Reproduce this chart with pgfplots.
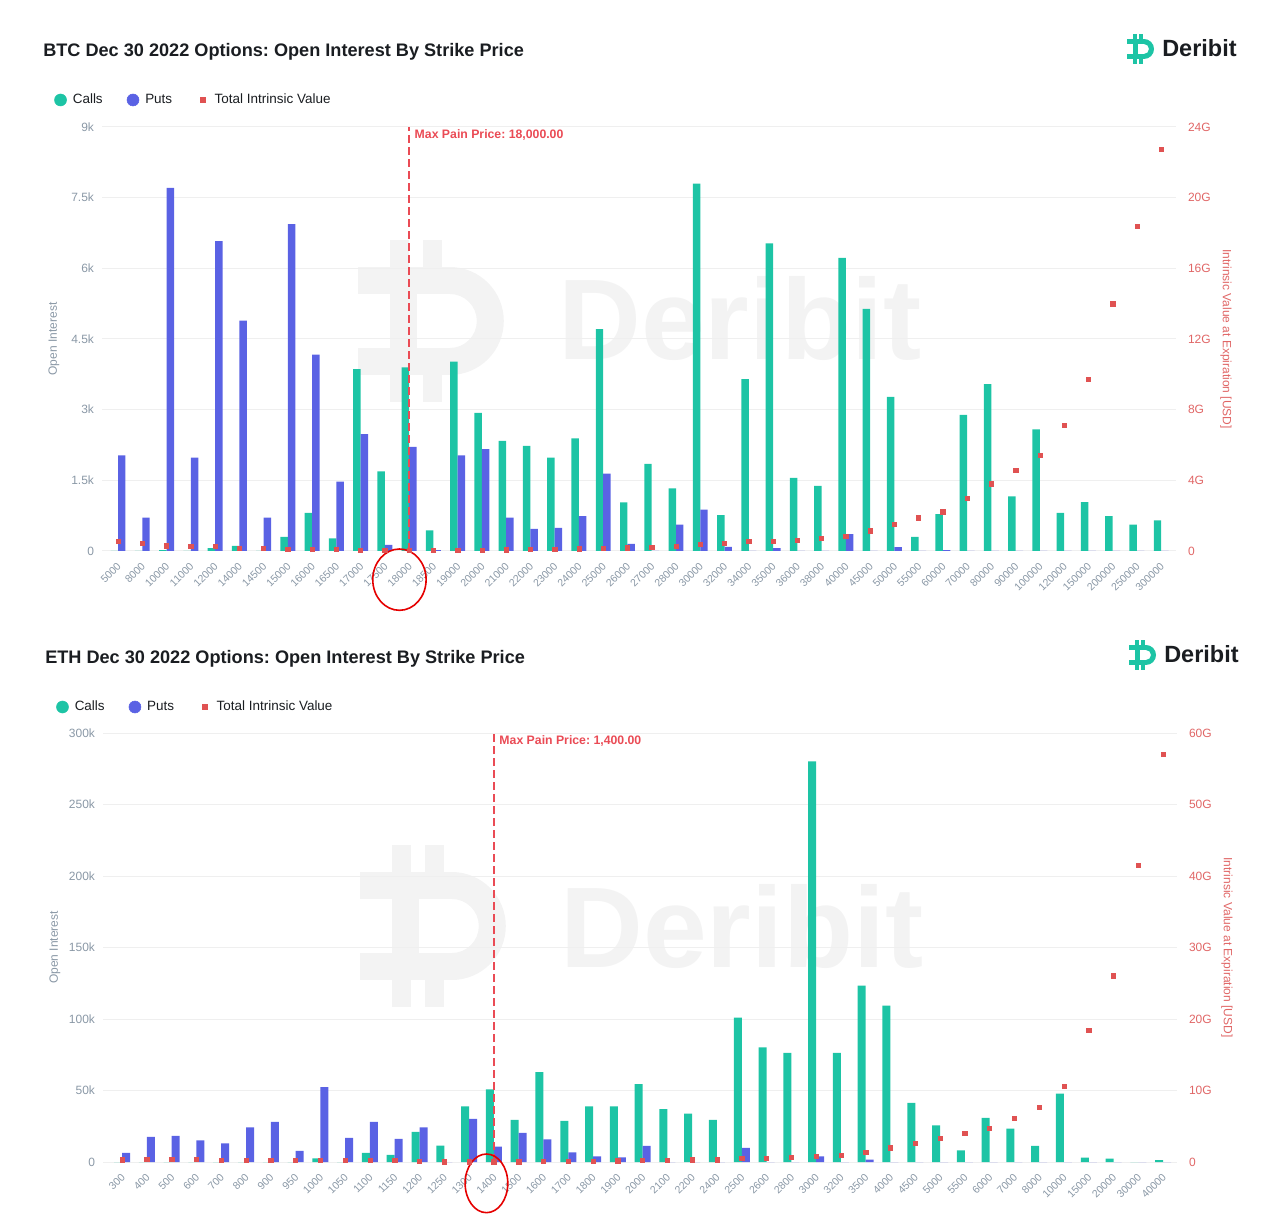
\documentclass[border=0pt]{standalone}
\usepackage{fontspec}
\setmainfont{Liberation Sans}
\usepackage{pgfplots}
\pgfplotsset{compat=1.18}
\usepackage{pgfplotstable}
\frenchspacing

\definecolor{callc}{HTML}{1DC4A5}
\definecolor{putc}{HTML}{5A62E4}
\definecolor{dotc}{HTML}{E05252}
\definecolor{axgray}{HTML}{8A98A6}
\definecolor{axred}{HTML}{E06666}
\definecolor{gridc}{HTML}{EFEFEF}
\definecolor{wm}{HTML}{F3F3F3}
\definecolor{titlec}{HTML}{1A1D21}
\definecolor{maxc}{HTML}{EA4B55}

% BTC: calls, puts (contracts), total intrinsic value (G USD)
\pgfplotstableread{
idx calls puts iv
0 0 2030 0.53
1 0 710 0.43
2 20 7710 0.30
3 0 1980 0.25
4 60 6580 0.25
5 110 4890 0.15
6 0 710 0.15
7 300 6940 0.10
8 810 4170 0.10
9 270 1470 0.08
10 3860 2480 0.05
11 1690 130 0.05
12 3900 2210 0.05
13 440 20 0.05
14 4020 2030 0.05
15 2930 2160 0.05
16 2340 710 0.07
17 2230 470 0.08
18 1980 490 0.10
19 2390 740 0.12
20 4710 1640 0.15
21 1030 150 0.18
22 1850 0 0.20
23 1330 560 0.25
24 7800 880 0.38
25 760 90 0.43
26 3650 0 0.53
27 6530 60 0.53
28 1550 0 0.60
29 1380 0 0.73
30 6220 360 0.85
31 5140 0 1.15
32 3270 80 1.50
33 300 0 1.88
34 780 20 2.22
35 2890 0 3.00
36 3540 0 3.80
37 1160 0 4.57
38 2580 0 5.40
39 810 0 7.10
40 1040 0 9.70
41 740 0 14.00
42 560 0 18.36
43 650 0 22.75
}\btcdata

% ETH: calls, puts (k contracts), total intrinsic value (G USD)
\pgfplotstableread{
idx calls puts iv
0 0 6.3 0.33
1 0 17.5 0.40
2 0 18.2 0.40
3 0 15.2 0.40
4 0 13.1 0.25
5 0 24.2 0.25
6 0 28.0 0.25
7 0 7.7 0.20
8 2.6 52.4 0.20
9 0 16.8 0.20
10 6.3 28.0 0.20
11 4.9 16.1 0.20
12 21.0 24.2 0.15
13 11.4 0 0.05
14 38.9 30.1 0.05
15 50.8 10.7 0.05
16 29.4 20.3 0.05
17 62.9 15.9 0.10
18 28.7 6.8 0.12
19 38.9 4.0 0.15
20 38.9 3.3 0.17
21 54.5 11.2 0.20
22 36.9 0 0.20
23 33.9 0 0.30
24 29.4 0 0.30
25 100.9 9.8 0.50
26 80.1 0 0.55
27 76.3 0 0.70
28 280.2 4.0 0.85
29 76.3 0 0.95
30 123.3 1.6 1.40
31 109.3 0 2.00
32 41.3 0 2.57
33 25.7 0 3.36
34 8.2 0 4.06
35 30.8 0 4.70
36 23.3 0 6.16
37 11.2 0 7.70
38 47.9 0 10.64
39 3.0 0 18.44
40 2.3 0 26.05
41 0 0 41.55
42 1.4 0 57.05
}\ethdata

\pgfplotsset{
  base/.style={
    scale only axis, anchor=south west, width=805.5pt,
    axis line style={draw=none}, tick style={draw=none},
    ticklabel style={font=\fontsize{9}{10}\selectfont},
    clip=false,
  },
  leftax/.style={
    base, ymin=0,
    ymajorgrids, grid style={gridc, line width=0.75pt},
    yticklabel style={text=axgray, xshift=-2.5pt},
    xticklabel style={rotate=45, anchor=east, text=axgray, font=\fontsize{7.9}{9}\selectfont, yshift=-7.6pt, xshift=-3pt},
    every axis y label/.style={at={(axis description cs:-0.0447,0.5)}, rotate=90, anchor=center,
       font=\fontsize{9}{10}\selectfont, text=axgray},
    legend columns=3,
    legend style={draw=none, fill=none, inner sep=0pt, anchor=west,
      font=\fontsize{10.1}{11}\selectfont, text=titlec,
      /tikz/every even column/.style={column sep=16pt}},
    legend cell align=left,
  },
  rightax/.style={
    base, ymin=0, axis x line=none, axis y line*=right,
    yticklabel style={text=axred, xshift=5.5pt},
    every axis y label/.style={at={(axis description cs:1.0466,0.5)}, rotate=-90, anchor=center,
       font=\fontsize{9}{10}\selectfont, text=axred},
  },
  limg/.style={legend image code/.code={\fill[#1] (4.5pt,0pt) circle (4.5pt); \path (0pt,0pt) (11.5pt,0pt);}},
  simg/.style={legend image code/.code={\fill[#1] (2.6pt,-1.9pt) rectangle (6.4pt,1.9pt); \path (0pt,0pt) (11.5pt,0pt);}},
}

% Deribit icon, drawn in a 30x30 box (pixel units, y down)
\newcommand{\dicon}[4]{%
\begin{scope}[shift={(#1,#2)}, scale=#3]
  \fill[#4] (0,5) rectangle (17,10);
  \fill[#4] (0,20) rectangle (17,25);
  \fill[#4] (6,5) rectangle (11,25);
  \fill[#4] (17,5) arc[start angle=-90, end angle=90, radius=10] -- (17,20)
        arc[start angle=90, end angle=-90, radius=5] -- cycle;
  \fill[#4] (6,0) rectangle (9.5,5);
  \fill[#4] (12,0) rectangle (15.5,5);
  \fill[#4] (6,25) rectangle (9.5,30);
  \fill[#4] (12,25) rectangle (15.5,30);
\end{scope}}

\begin{document}
\begin{tikzpicture}
\path[use as bounding box] (0,0) rectangle (960pt,910.5pt);

\begin{scope}[x=0.75pt,y=-0.75pt,yshift=910.5pt]
  % watermarks
  \dicon{358}{240}{5.4}{wm}
  \node[anchor=base west, inner sep=0pt, text=wm, font=\bfseries\fontsize{86}{90}\selectfont] at (558,360) {Deribit};
  \dicon{360}{845}{5.4}{wm}
  \node[anchor=base west, inner sep=0pt, text=wm, font=\bfseries\fontsize{86}{90}\selectfont] at (560,967) {Deribit};
  % titles
  \node[anchor=base west, inner sep=0pt, text=titlec, font=\bfseries\fontsize{13.6}{15}\selectfont] at (43,57) {BTC Dec 30 2022 Options: Open Interest By Strike Price};
  \node[anchor=base west, inner sep=0pt, text=titlec, font=\bfseries\fontsize{13.6}{15}\selectfont] at (45,664) {ETH Dec 30 2022 Options: Open Interest By Strike Price};
  % logos
  \dicon{1127}{34}{1}{callc}
  \node[anchor=base west, inner sep=0pt, text=titlec, font=\bfseries\fontsize{17.6}{19}\selectfont] at (1162,57) {Deribit};
  \dicon{1129}{640}{1}{callc}
  \node[anchor=base west, inner sep=0pt, text=titlec, font=\bfseries\fontsize{17.6}{19}\selectfont] at (1164,663) {Deribit};
\end{scope}

% ---------------- BTC ----------------
\begin{axis}[leftax, at={(76.5pt,497.25pt)}, height=318pt,
  xmin=-0.66, xmax=43.61, ymax=9000,
  ytick={0,1500,3000,4500,6000,7500,9000},
  yticklabels={0,1.5k,3k,4.5k,6k,7.5k,9k},
  xtick={0,...,43},
  xticklabels={5000,8000,10000,11000,12000,14000,14500,15000,16000,16500,17000,17500,18000,18500,19000,20000,21000,22000,23000,24000,25000,26000,27000,28000,30000,32000,34000,35000,36000,38000,40000,45000,50000,55000,60000,70000,80000,90000,100000,120000,150000,200000,250000,300000},
  ylabel={Open Interest},
  legend style={at={(axis description cs:-0.0447,1.0637)}},
]
\addlegendimage{limg=callc}
\addlegendentry{Calls}
\addlegendimage{limg=putc}
\addlegendentry{Puts}
\addlegendimage{simg=dotc}
\addlegendentry{Total Intrinsic Value}
\addplot[ybar, bar width=5.6pt, bar shift=-2.8pt, fill=callc, draw=none, forget plot] table[x=idx,y=calls]{\btcdata};
\addplot[ybar, bar width=5.6pt, bar shift=2.8pt, fill=putc, draw=none, forget plot] table[x=idx,y=puts]{\btcdata};
\addplot[color=maxc, line width=1.1pt, dash pattern=on 6pt off 3pt, forget plot, mark=none] coordinates {(12,0) (12,9000)};
\node[anchor=north west, inner sep=0pt, text=maxc, font=\bfseries\fontsize{9.2}{10}\selectfont] at ([xshift=4pt,yshift=-1.5pt]axis cs:12,9000) {Max Pain Price: 18,000.00};
\draw[red!90!black, line width=1.2pt] ([yshift=-21.5pt]axis cs:11.6,0) ellipse [x radius=20pt, y radius=23pt];
\end{axis}
\begin{axis}[rightax, at={(76.5pt,497.25pt)}, height=318pt,
  xmin=-0.66, xmax=43.61, ymax=24,
  ytick={0,4,8,12,16,20,24},
  yticklabels={0,4G,8G,12G,16G,20G,24G},
  ylabel={Intrinsic Value at Expiration [USD]},
]
\addplot[only marks, mark=square*, mark size=1.6pt, dotc] table[x=idx,y=iv]{\btcdata};
\end{axis}

% ---------------- ETH ----------------
\begin{axis}[leftax, at={(77.25pt,39pt)}, height=321.75pt,
  xmin=-0.77, xmax=42.56, ymax=300,
  ytick={0,50,100,150,200,250,300},
  yticklabels={0,50k,100k,150k,200k,250k,300k},
  xtick={0,...,42},
  xticklabels={300,400,500,600,700,800,900,950,1000,1050,1100,1150,1200,1250,1300,1400,1500,1600,1700,1800,1900,2000,2100,2200,2400,2500,2600,2800,3000,3200,3500,4000,4500,5000,5500,6000,7000,8000,10000,15000,20000,30000,40000},
  ylabel={Open Interest},
  legend style={at={(axis description cs:-0.0438,1.0606)}},
]
\addlegendimage{limg=callc}
\addlegendentry{Calls}
\addlegendimage{limg=putc}
\addlegendentry{Puts}
\addlegendimage{simg=dotc}
\addlegendentry{Total Intrinsic Value}
\addplot[ybar, bar width=6pt, bar shift=-3pt, fill=callc, draw=none, forget plot] table[x=idx,y=calls]{\ethdata};
\addplot[ybar, bar width=6pt, bar shift=3pt, fill=putc, draw=none, forget plot] table[x=idx,y=puts]{\ethdata};
\addplot[color=maxc, line width=1.1pt, dash pattern=on 6pt off 3pt, forget plot, mark=none] coordinates {(15,0) (15,300)};
\node[anchor=north west, inner sep=0pt, text=maxc, font=\bfseries\fontsize{9.2}{10}\selectfont] at ([xshift=4pt,yshift=-1.5pt]axis cs:15,300) {Max Pain Price: 1,400.00};
\draw[red!90!black, line width=1.2pt] ([yshift=-16pt]axis cs:14.7,0) ellipse [x radius=16pt, y radius=22pt];
\end{axis}
\begin{axis}[rightax, at={(77.25pt,39pt)}, height=321.75pt,
  xmin=-0.77, xmax=42.56, ymax=60,
  ytick={0,10,20,30,40,50,60},
  yticklabels={0,10G,20G,30G,40G,50G,60G},
  ylabel={Intrinsic Value at Expiration [USD]},
]
\addplot[only marks, mark=square*, mark size=1.6pt, dotc] table[x=idx,y=iv]{\ethdata};
\end{axis}
\end{tikzpicture}
\end{document}
